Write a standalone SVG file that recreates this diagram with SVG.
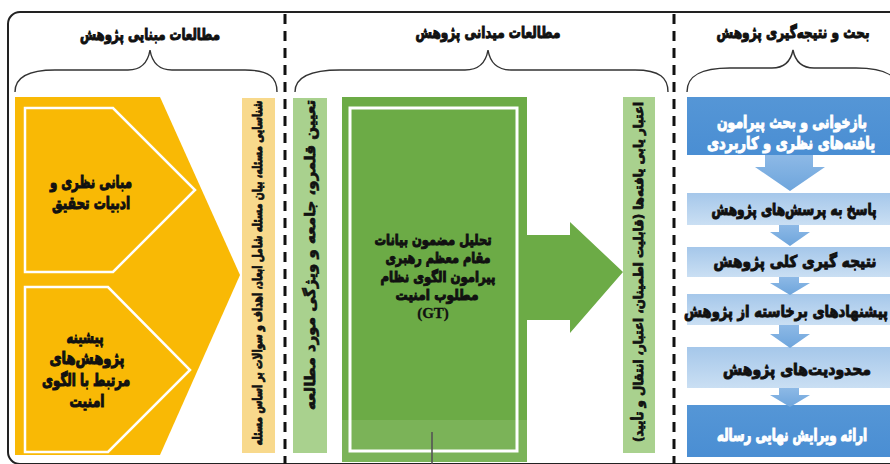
<svg xmlns="http://www.w3.org/2000/svg" width="890" height="464" viewBox="0 0 890 464">
<style>
text{font-family:"DejaVu Sans","Noto Sans",sans-serif;font-weight:bold;fill:#111;stroke:#111;stroke-width:0.8;text-anchor:middle;}
.brace{fill:none;stroke:#333;stroke-width:1.4;}
.sep{stroke:#111;stroke-width:3;stroke-dasharray:10 7;}
.yl{fill:#F9B905;}
.pent{fill:#F9B905;stroke:#fff;stroke-width:2.5;}
.vt{dominant-baseline:central;stroke-width:0.6;}
.lb{fill:url(#lightBlue);}
.db{fill:url(#darkBlue);}
.ba{fill:url(#arrowBlue);}
text.w{fill:#fff;stroke:#fff;}
</style>
<defs>
<linearGradient id="lightBlue" x1="0" y1="0" x2="0" y2="1">
<stop offset="0" stop-color="#A5C7EA"/><stop offset="1" stop-color="#CADFF3"/>
</linearGradient>
<linearGradient id="darkBlue" x1="0" y1="0" x2="0" y2="1">
<stop offset="0" stop-color="#5596D6"/><stop offset="1" stop-color="#4A8ED3"/>
</linearGradient>
<linearGradient id="arrowBlue" x1="0" y1="0" x2="0" y2="1">
<stop offset="0" stop-color="#8DB9E6"/><stop offset="1" stop-color="#6EA5DC"/>
</linearGradient>
</defs>
<rect width="890" height="464" fill="#fff"/>
<rect x="8" y="12" width="900" height="452" rx="12" fill="none" stroke="#222" stroke-width="2"/>
<g id="separators">
<line class="sep" x1="285" y1="14" x2="285" y2="464"/>
<line class="sep" x1="674" y1="14" x2="674" y2="464"/>
</g>
<g id="headers">
<text font-size="12" transform="translate(150,40) scale(1,1.3)" textLength="140" lengthAdjust="spacingAndGlyphs">مطالعات مبنایی پژوهش</text>
<text font-size="12" transform="translate(488,38) scale(1,1.3)" textLength="145" lengthAdjust="spacingAndGlyphs">مطالعات میدانی پژوهش</text>
<text font-size="12" transform="translate(793,38) scale(1,1.3)" textLength="153" lengthAdjust="spacingAndGlyphs">بحث و نتیجه‌گیری پژوهش</text>
<path class="brace" d="M15,92 C15,78 28,70 55,70 L128,70 C142,70 148,62 150,50 C152,62 158,70 172,70 L245,70 C270,70 277,78 277,92"/>
<path class="brace" d="M295,92 C295,78 310,70 340,70 L465,70 C480,70 486,62 488,50 C490,62 496,70 511,70 L635,70 C660,70 668,78 668,92"/>
<path class="brace" d="M687,92 C687,76 700,68 730,68 L772,68 C786,68 791,60 793,50 C795,60 800,68 814,68 L856,68 C886,68 899,76 899,92"/>
</g>
<g id="foundation">
<polygon class="yl" points="15,97 160,97 240,275 160,455 15,455"/>
<g id="theory">
<polygon class="pent" points="25,108 113,108 195,190 113,272 25,272"/>
<text font-size="12" transform="translate(91,188) scale(1,1.4)" textLength="82" lengthAdjust="spacingAndGlyphs">مبانی نظری و</text>
<text font-size="12" transform="translate(91,209) scale(1,1.4)" textLength="78" lengthAdjust="spacingAndGlyphs">ادبیات تحقیق</text>
</g>
<g id="background">
<polygon class="pent" points="25,287 108,287 190,370 108,452 25,452"/>
<text font-size="12" transform="translate(85,343) scale(1,1.4)" textLength="37" lengthAdjust="spacingAndGlyphs">پیشینه</text>
<text font-size="12" transform="translate(87,364) scale(1,1.4)" textLength="75" lengthAdjust="spacingAndGlyphs">پژوهش‌های</text>
<text font-size="12" transform="translate(86,386) scale(1,1.4)" textLength="88" lengthAdjust="spacingAndGlyphs">مرتبط با الگوی</text>
<text font-size="12" transform="translate(87,407) scale(1,1.4)" textLength="35" lengthAdjust="spacingAndGlyphs">امنیت</text>
</g>
</g>
<g id="problem">
<rect x="242" y="98" width="33" height="355" fill="#F8D98C"/>
<text class="vt" font-size="9.5" transform="translate(258,273) rotate(-90) scale(1,1.35)" textLength="345" lengthAdjust="spacingAndGlyphs">شناسایی مسئله، بیان مسئله شامل ابعاد، اهداف و سوالات بر اساس مسئله</text>
</g>
<g id="scope">
<rect x="293" y="98" width="34" height="355" fill="#A9D18E"/>
<text class="vt" font-size="12.5" transform="translate(310,255) rotate(-90) scale(1,1.15)" textLength="310" lengthAdjust="spacingAndGlyphs">تعیین قلمرو، جامعه و ویژگی مورد مطالعه</text>
</g>
<g id="analysis">
<rect x="342" y="97" width="185" height="365" fill="#6CAB46"/>
<rect x="342" y="420" width="185" height="42" fill="#fff" opacity="0.1"/>
<rect x="350" y="108" width="167" height="343" fill="none" stroke="#fff" stroke-width="3"/>
<text font-size="11.5" transform="translate(433,245) scale(1,1.3)" textLength="117" lengthAdjust="spacingAndGlyphs">تحلیل مضمون بیانات</text>
<text font-size="11.5" transform="translate(438,263) scale(1,1.3)" textLength="105" lengthAdjust="spacingAndGlyphs">مقام معظم رهبری</text>
<text font-size="11" transform="translate(438,282) scale(1,1.3)" textLength="115" lengthAdjust="spacingAndGlyphs">پیرامون الگوی نظام</text>
<text font-size="11.5" transform="translate(437,300) scale(1,1.3)" textLength="83" lengthAdjust="spacingAndGlyphs">مطلوب امنیت</text>
<text font-size="15" x="433" y="318" style="font-family:'Liberation Serif',serif;stroke-width:0.3">(GT)</text>
</g>
<g id="validation">
<rect x="623" y="97" width="32" height="356" fill="#A9D18E"/>
<text class="vt" font-size="9.5" transform="translate(639,272) rotate(-90) scale(1,1.35)" textLength="340" lengthAdjust="spacingAndGlyphs">اعتبار یابی یافته‌ها (قابلیت اطمینان، اعتبار، انتقال و تأیید)</text>
</g>
<g id="b1">
<rect class="db" x="687" y="97" width="210" height="58"/>
<text class="w" font-size="12.5" transform="translate(792,128) scale(1,1.35)" textLength="150" lengthAdjust="spacingAndGlyphs">بازخوانی و بحث پیرامون</text>
<text class="w" font-size="13" transform="translate(791,149) scale(1,1.3)" textLength="168" lengthAdjust="spacingAndGlyphs">یافته‌های نظری و کاربردی</text>
</g>
<g id="b2">
<rect class="lb" x="687" y="193" width="210" height="32"/>
<text font-size="11.5" transform="translate(794,215) scale(1,1.4)" textLength="165" lengthAdjust="spacingAndGlyphs">پاسخ به پرسش‌های پژوهش</text>
</g>
<g id="b3">
<rect class="lb" x="687" y="247" width="210" height="30"/>
<text font-size="13" transform="translate(795,267) scale(1,1.25)" textLength="163" lengthAdjust="spacingAndGlyphs">نتیجه گیری کلی پژوهش</text>
</g>
<g id="b4">
<rect class="lb" x="687" y="294" width="210" height="31"/>
<text font-size="13" transform="translate(786,317) scale(1,1.25)" textLength="204" lengthAdjust="spacingAndGlyphs">پیشنهادهای برخاسته از پژوهش</text>
</g>
<g id="b5">
<rect class="lb" x="687" y="347" width="210" height="41"/>
<text font-size="13" transform="translate(797,375) scale(1,1.25)" textLength="148" lengthAdjust="spacingAndGlyphs">محدودیت‌های پژوهش</text>
</g>
<g id="b6">
<rect class="db" x="687" y="405" width="210" height="52"/>
<text class="w" font-size="11.5" transform="translate(792,441) scale(1,1.45)" textLength="150" lengthAdjust="spacingAndGlyphs">ارائه ویرایش نهایی رساله</text>
</g>
<g id="connectors">
<polygon fill="#6CAB46" points="527,235 570,235 570,222 623,272 570,333 570,320 527,320"/>
<polygon class="ba" points="765,155 813,155 813,167 825,167 790,191 755,167 765,167"/>
<polygon class="ba" points="779,225 799,225 799,232 810,232 790,246 770,232 779,232"/>
<polygon class="ba" points="779,277 799,277 799,283 810,283 790,295 770,283 779,283"/>
<polygon class="ba" points="779,325 799,325 799,334 810,334 790,348 770,334 779,334"/>
<polygon class="ba" points="779,388 799,388 799,395 810,395 790,407 770,395 779,395"/>
<line x1="432" y1="432" x2="432" y2="464" stroke="#555" stroke-width="2" opacity="0.8"/>
</g>
</svg>
